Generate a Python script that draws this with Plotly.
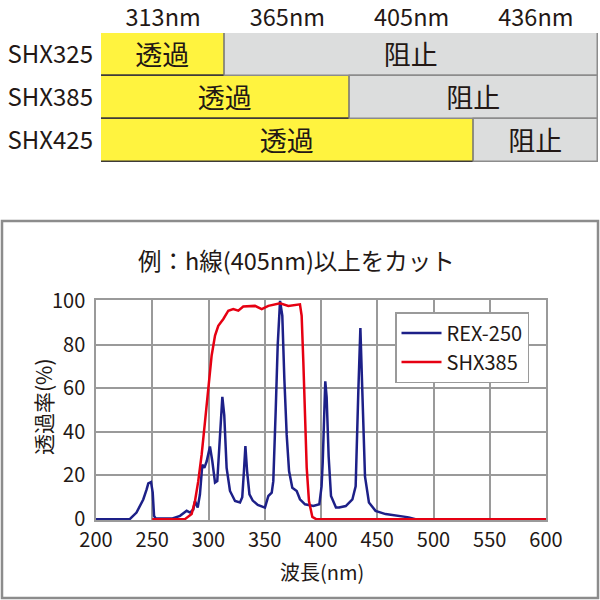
import plotly.graph_objects as go

# ---------------- data ----------------
# Top table
filters = ["SHX325", "SHX385", "SHX425"]
lines_nm = ["313nm", "365nm", "405nm", "436nm"]
pass_cols = [1, 2, 3]    # number of columns transmitted
block_cols = [3, 2, 1]   # number of columns blocked
pass_label = "透過"
block_label = "阻止"

# Spectrum: REX-250 lamp
rex_nm = [200, 230, 236, 242, 245, 246.5, 248.9, 250.4, 251.6, 253, 268, 274.7, 280.6, 283.6,
          286.5, 288, 290.4, 292.4, 294.5, 296.3, 298.4, 301.3, 303.4, 305.8, 307.8, 310.2,
          312.3, 314, 316.1, 319.1, 323.6, 328, 330, 331.5, 332.8, 334.3, 336.4, 339.3, 343.8,
          350.2, 353.2, 356.2, 357.6, 359.7, 361.5, 363.6, 365.6, 367.4, 369.5, 371.6, 374.5,
          378.4, 381.3, 385.8, 393.2, 398.5, 400.5, 401.5, 403, 403.8, 405, 406.8, 408.9, 413.3,
          416.1, 422, 427.9, 430.8, 433.2, 435, 436.7, 439.1, 442.6, 448.5, 457.4, 469.2, 478,
          484, 600]
rex_val = [0, 0, 3, 9, 13.6, 16.4, 17, 12.3, 1.5, 0.3, 0.3, 1.5, 3.8, 3,
           4.4, 8.3, 5.3, 11.4, 25, 23.5, 26.5, 33.3, 26.5, 16.7, 17.4, 37.1,
           56, 47.7, 23.5, 12.9, 8.3, 7.6, 10, 22, 33.5, 22, 11.3, 8.5, 6.5,
           5.3, 10.6, 12.1, 17.4, 49.2, 79.5, 100, 93.2, 64.4, 38.6, 22, 14.4,
           12.9, 9.1, 6.8, 6, 6.8, 15, 25.7, 58.9, 63.1, 55.9, 28.7, 10.6, 5.3,
           5.3, 6, 9, 15, 59, 87.6, 59, 19.6, 7.6, 3.8, 2.3, 1.5, 0.8,
           0, 0]

# Spectrum: SHX385 filter
shx_nm = [250, 279, 285, 288, 290.9, 293.9, 296.9, 299.9, 302.8, 305.8, 308.7, 313.2, 317.6,
          322, 326.5, 330.9, 341.3, 347.3, 353.2, 363.6, 371, 381.3, 382.8, 384.3, 385.8,
          387.3, 389.3, 392.3, 395.6, 600]
shx_val = [0, 0, 2.3, 8.3, 17.4, 29.5, 44.7, 61.4, 75, 84.1, 88.6, 91.7, 95.5,
           96.2, 95.5, 97.4, 97.7, 96.2, 97.7, 98.9, 97.7, 98.4, 93.2, 72, 47.7,
           23.5, 8.3, 1, 0, 0]

x_ticks = [200, 250, 300, 350, 400, 450, 500, 550, 600]
y_ticks = [0, 20, 40, 60, 80, 100]

# ---------------- style ----------------
W, H = 600, 600
TXT = "#231815"
GRID = "#9a9a9a"
FONT = "Noto Sans CJK JP"
YELLOW = "#FFF33F"
GRAY = "#DCDDDD"


def px_x(p):
    return p / W


def px_y(p):
    return 1 - p / H


fig = go.Figure()

# Spectrum traces
fig.add_trace(go.Scatter(x=rex_nm, y=rex_val, mode="lines", name="REX-250",
                         line=dict(color="#1D2088", width=2.5), xaxis="x", yaxis="y"))
fig.add_trace(go.Scatter(x=shx_nm, y=shx_val, mode="lines", name="SHX385",
                         line=dict(color="#E60012", width=2.5), xaxis="x", yaxis="y"))

# Table bars
fig.add_trace(go.Bar(y=filters, x=pass_cols, base=[0] * len(filters), orientation="h",
                     marker=dict(color=YELLOW, line=dict(color="#3E3A39", width=1.5)),
                     text=[pass_label] * len(filters), textposition="inside",
                     insidetextanchor="middle", textangle=0, constraintext="none",
                     textfont=dict(size=27, color=TXT, family=FONT),
                     showlegend=False, hoverinfo="skip", xaxis="x2", yaxis="y2"))
fig.add_trace(go.Bar(y=filters, x=block_cols, base=pass_cols, orientation="h",
                     marker=dict(color=GRAY, line=dict(color="#8c8c8c", width=1.5)),
                     text=[block_label] * len(filters), textposition="inside",
                     insidetextanchor="middle", textangle=0, constraintext="none",
                     textfont=dict(size=27, color=TXT, family=FONT),
                     showlegend=False, hoverinfo="skip", xaxis="x2", yaxis="y2"))

fig.update_layout(
    width=W, height=H,
    margin=dict(l=0, r=0, t=0, b=0, pad=0, autoexpand=False),
    paper_bgcolor="white", plot_bgcolor="white",
    font=dict(family=FONT, color=TXT, size=19),
    bargap=0, barmode="overlay",
    xaxis=dict(domain=[px_x(96), px_x(546)], range=[200, 600], tickvals=x_ticks,
               showgrid=True, gridcolor=GRID, gridwidth=1.5,
               showline=True, linecolor=GRID, linewidth=1.5, mirror=True,
               zeroline=False, ticks="", ticklabelstandoff=1, automargin=False,
               tickfont=dict(size=20), anchor="y"),
    yaxis=dict(domain=[px_y(520), px_y(300)], range=[-0.4, 100.4], tickvals=y_ticks,
               showgrid=True, gridcolor=GRID, gridwidth=1.5,
               showline=True, linecolor=GRID, linewidth=1.5, mirror=True,
               zeroline=False, ticks="", ticklabelstandoff=5, automargin=False,
               tickfont=dict(size=20), anchor="x"),
    xaxis2=dict(domain=[px_x(101), px_x(598)], range=[0, 4], side="top", anchor="y2",
                tickvals=[0.5, 1.5, 2.5, 3.5], ticktext=lines_nm,
                showgrid=False, zeroline=False, showline=False, ticks="",
                ticklabelstandoff=1, automargin=False, tickfont=dict(size=23.5)),
    yaxis2=dict(domain=[px_y(162), px_y(33)], type="category",
                categoryorder="array", categoryarray=filters, autorange="reversed",
                showgrid=False, zeroline=False, showline=False, ticks="",
                ticklabelstandoff=7, automargin=False, tickfont=dict(size=24), anchor="x2"),
    legend=dict(x=px_x(395), y=px_y(312), xanchor="left", yanchor="top",
                bgcolor="white", bordercolor=GRID, borderwidth=1.5,
                font=dict(size=20, color=TXT), itemwidth=40,
                tracegroupgap=4),
    shapes=[dict(type="rect", xref="paper", yref="paper",
                 x0=px_x(2), x1=px_x(598), y0=px_y(598), y1=px_y(221),
                 line=dict(color="#8c8c8c", width=2.5), fillcolor="rgba(0,0,0,0)",
                 layer="below")],
    annotations=[
        dict(text="例：h線(405nm)以上をカット", xref="paper", yref="paper",
             x=px_x(296), y=px_y(260), xanchor="center", yanchor="middle",
             showarrow=False, font=dict(size=23.5, color=TXT)),
        dict(text="波長(nm)", xref="paper", yref="paper",
             x=px_x(322), y=px_y(571), xanchor="center", yanchor="middle",
             showarrow=False, font=dict(size=20, color=TXT)),
        dict(text="透過率(%)", xref="paper", yref="paper", textangle=-90,
             x=px_x(43), y=px_y(407), xanchor="center", yanchor="middle",
             showarrow=False, font=dict(size=21, color=TXT)),
    ],
)

fig.write_html("out.html", config={"displayModeBar": False},
               post_script="document.body.style.margin='0px';")
